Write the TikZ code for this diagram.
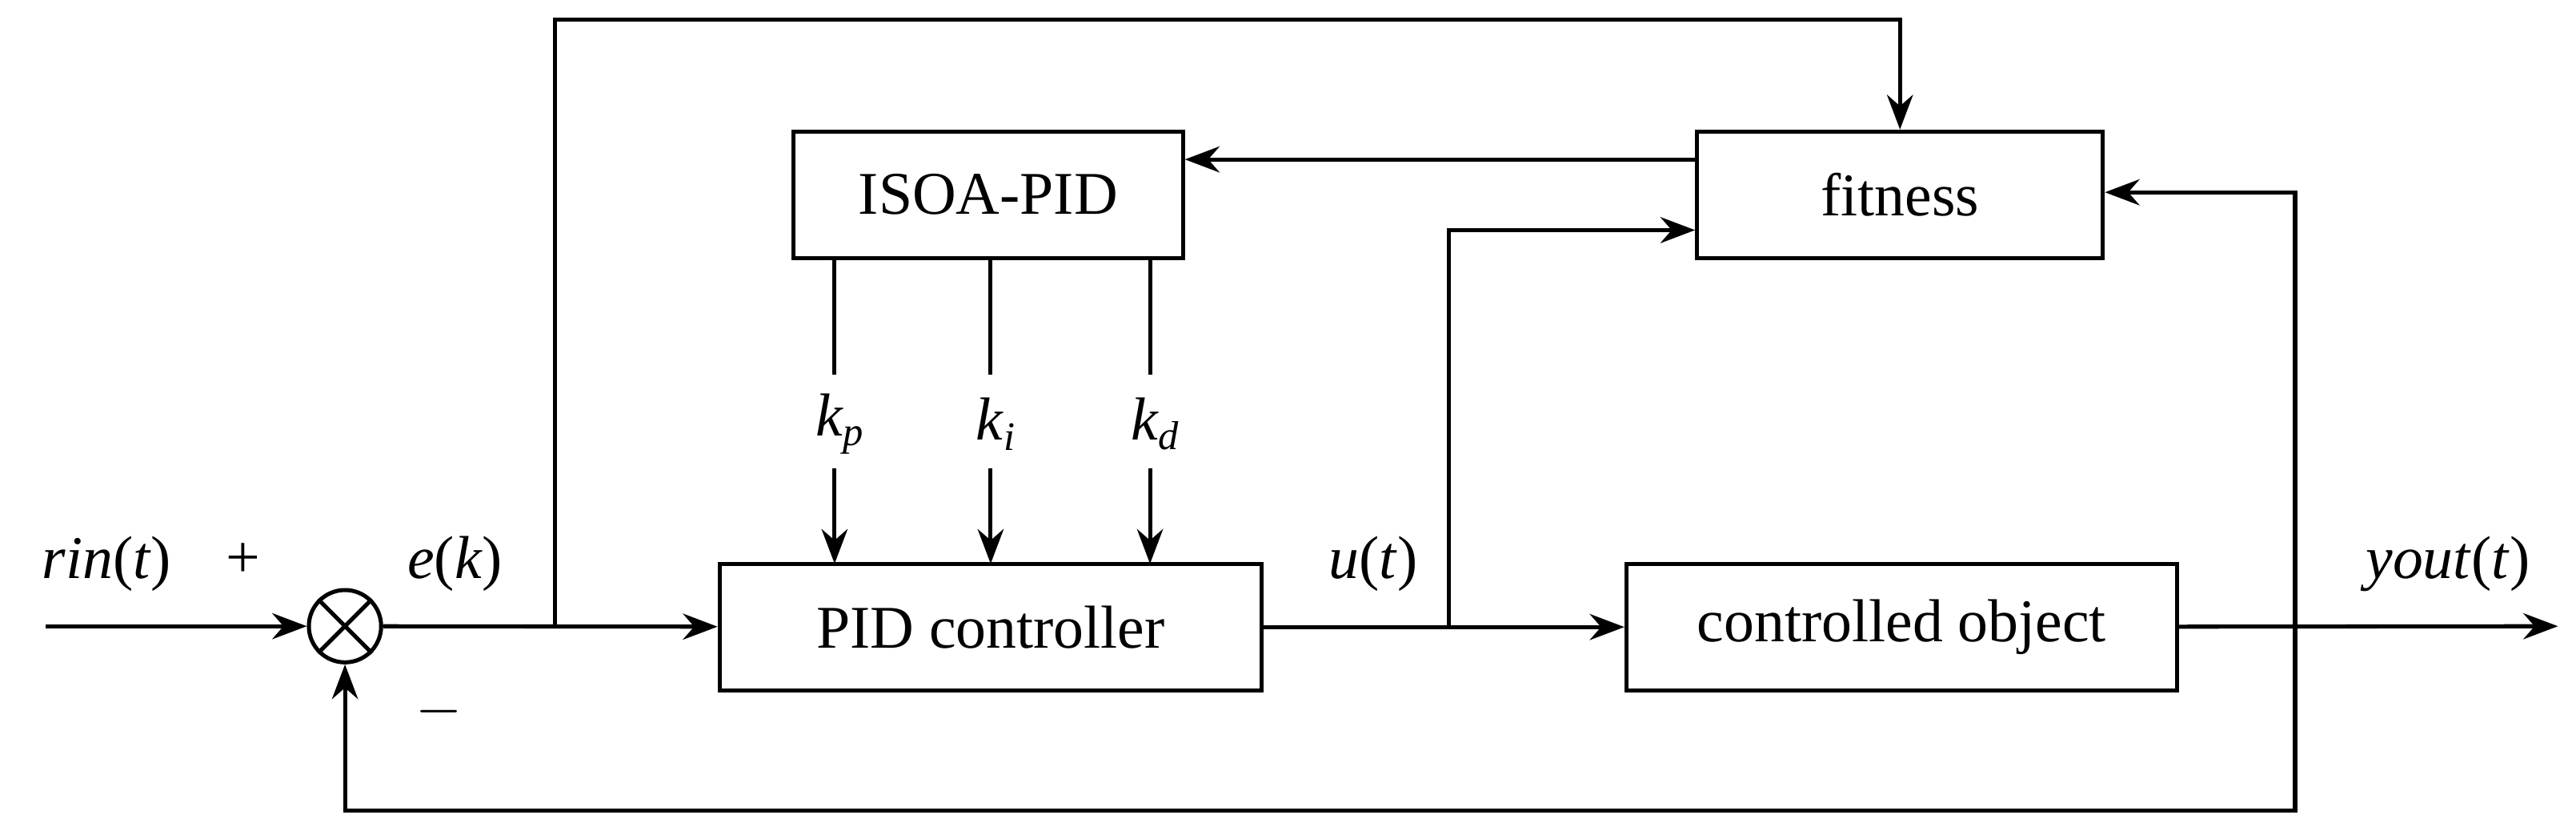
\documentclass[tikz,border=0pt]{standalone}
\usepackage{fontspec}
\setmainfont{Liberation Serif}
\usetikzlibrary{arrows.meta}
\begin{document}
\begin{tikzpicture}[x=0.02cm,y=-0.02cm,
  box/.style={draw,line width=1.4pt,inner sep=0pt},
  ln/.style={line width=1.4pt},
  ar/.style={ln,-{Stealth[length=12pt,width=9pt]}},
  lab/.style={font=\fontsize{21}{25}\selectfont}]
\useasboundingbox (0,0) rectangle (1568,508);
\node[box,minimum width=330*0.02cm,minimum height=77*0.02cm,lab] (pid) at (603,381.5) {PID controller};
\node[box,minimum width=335*0.02cm,minimum height=77*0.02cm,lab] (obj) at (1157.5,381.5) {controlled object};
\node[box,minimum width=237*0.02cm,minimum height=77*0.02cm,lab] (isoa) at (601.5,118.5) {ISOA-PID};
\node[box,minimum width=247*0.02cm,minimum height=77*0.02cm,lab] (fit) at (1156.5,118.5) {fitness};
\node[draw,circle,ln,minimum size=44*0.02cm,inner sep=0pt] (sum) at (210,381) {};
\draw[ln] (sum.45)--(sum.225) (sum.135)--(sum.315);
\coordinate (in) at (28,381);
\coordinate (out) at (1557,381);
\coordinate (b1) at (338,381);
\coordinate (b2) at (882,381);
\coordinate (b3) at (1397,381);
\draw[ar] (in)--(sum);
\draw[ar] (sum)--(pid);
\draw[ar] (pid)--(obj);
\draw[ar] (obj)--(out);
\draw[ar] (b1)--(338,12)-|(fit.north);
\draw[ar] (fit.west|-0,97)--(isoa.east|-0,97);
\draw[ar] (b2)--(882,140)--(fit.west|-0,140);
\draw[ar] (b3)--(1397,117)--(fit.east|-0,117);
\draw[ar] (b3)--(1397,493)-|(sum.south);
\foreach \x/\s in {508/p,603/i,700/d}{
  \draw[ln] (\x,157)--(\x,228);
  \node[lab] at (\x+3,258) {\textit{k}\raisebox{-0.35ex}{\fontsize{14}{16}\selectfont\textit{\s}}};
  \draw[ar] (\x,285)--(\x,343);
}
\node[lab] at (65,343) {\textit{rin}(\textit{t})};
\node[lab] at (148,341) {+};
\node[lab] at (277,343) {\textit{e}(\textit{k})};
\node[lab] at (267,433) {$-$};
\node[lab] at (836,343) {\textit{u}(\textit{t})};
\node[lab] at (1490,343) {\textit{yout}(\textit{t})};
\end{tikzpicture}
\end{document}
